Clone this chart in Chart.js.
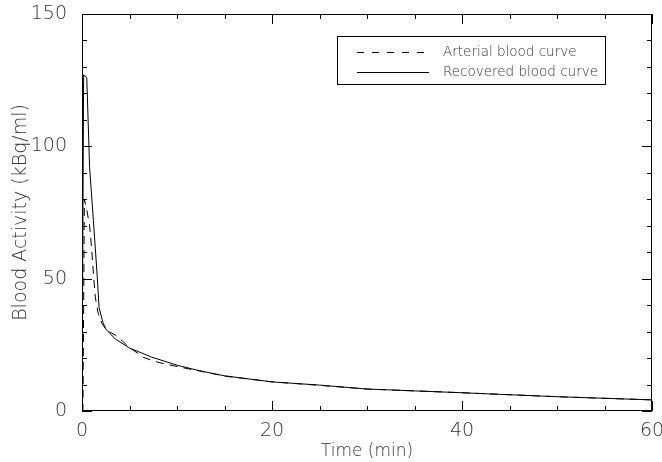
<!DOCTYPE html>
<html>
<head>
<meta charset="utf-8">
<script src="https://cdn.jsdelivr.net/npm/chart.js@4/dist/chart.umd.min.js"></script>
<style>
  html, body { margin: 0; padding: 0; background: #fff; }
  #wrap { width: 662px; height: 462px; }
</style>
</head>
<body>
<div id="wrap"><canvas id="bloodChart" width="662" height="462"></canvas></div>
<script>
// values (time in min, activity in kBq/ml)
const arterialTime   = [0, 0.1, 0.25, 0.5, 0.8, 1.0, 1.2, 1.4, 1.7, 2.1, 2.6, 3.6, 5, 6.5, 8, 10, 12.4, 15, 20, 25, 30, 35, 40, 50, 60];
const arterialValues = [0, 0, 80, 76, 70, 62, 52, 43, 37, 33, 30.5, 28.5, 24, 20.2, 18.4, 16.8, 15.1, 13.2, 11, 9.7, 8.3, 7.6, 6.9, 5.4, 4.2];

const recoveredTime   = [0, 0.1, 0.17, 0.5, 0.8, 1.2, 1.6, 1.8, 2.2, 2.5, 3.5, 5, 7.3, 10, 12.4, 15, 20, 25, 30, 35, 40, 50, 60];
const recoveredValues = [0, 0, 127, 126, 92, 72, 51, 39, 33.5, 31, 27.2, 23.8, 20.4, 17.3, 15.2, 13.3, 11, 9.8, 8.3, 7.6, 6.9, 5.4, 4.2];

const xTickLabels = [0, 20, 40, 60];
const yTickLabels = [0, 50, 100, 150];
const legendLabels = ['Arterial blood curve', 'Recovered blood curve'];

const FONT = '"DejaVu Sans", sans-serif';
const INK = '#333';

function toPoints(xs, ys) {
    return xs.map((t, i) => ({ x: t, y: ys[i] }));
}

// frame with inward ticks on all four sides
const frameTicks = {
    id: 'frameTicks',
    afterDraw(chart) {
        const { ctx, chartArea: { left, right, top, bottom }, scales: { x, y } } = chart;
        ctx.save();
        ctx.strokeStyle = '#000';
        ctx.lineWidth = 1;
        ctx.strokeRect(left + 0.5, top + 0.5, right - left - 1, bottom - top - 1);
        ctx.beginPath();
        for (let v = 0; v <= 60; v += 5) {
            const px = Math.round(x.getPixelForValue(v)) + 0.5;
            const len = (v % 20 === 0) ? 10 : 5;
            ctx.moveTo(px, bottom); ctx.lineTo(px, bottom - len);
            ctx.moveTo(px, top); ctx.lineTo(px, top + len);
        }
        for (let v = 0; v <= 150; v += 10) {
            const py = Math.round(y.getPixelForValue(v)) + 0.5;
            const len = (v % 50 === 0) ? 10 : 5;
            ctx.moveTo(left, py); ctx.lineTo(left + len, py);
            ctx.moveTo(right, py); ctx.lineTo(right - len, py);
        }
        ctx.stroke();
        ctx.restore();
    }
};

// boxed legend in the upper right
const boxLegend = {
    id: 'boxLegend',
    afterDraw(chart) {
        const ctx = chart.ctx;
        const bx = 337, by = 36, bw = 268, bh = 48;
        ctx.save();
        ctx.fillStyle = '#fff';
        ctx.fillRect(bx, by, bw, bh);
        ctx.strokeStyle = '#000';
        ctx.lineWidth = 1;
        ctx.strokeRect(bx + 0.5, by + 0.5, bw, bh);
        ctx.font = '200 13.5px ' + FONT;
        ctx.fillStyle = INK;
        ctx.textBaseline = 'middle';
        const rows = [by + 16, by + 36];
        chart.data.datasets.forEach((ds, i) => {
            ctx.beginPath();
            ctx.setLineDash(ds.borderDash ? [7, 8] : []);
            ctx.moveTo(357, rows[i] + 0.5);
            ctx.lineTo(429, rows[i] + 0.5);
            ctx.stroke();
            ctx.setLineDash([]);
            ctx.fillText(legendLabels[i], 443, rows[i]);
        });
        ctx.restore();
    }
};

new Chart(document.getElementById('bloodChart'), {
    type: 'line',
    data: {
        datasets: [
            {
                label: legendLabels[0],
                data: toPoints(arterialTime, arterialValues),
                borderColor: '#000',
                borderWidth: 1,
                borderDash: [8, 6],
                pointRadius: 0,
                tension: 0,
                fill: false
            },
            {
                label: legendLabels[1],
                data: toPoints(recoveredTime, recoveredValues),
                borderColor: '#000',
                borderWidth: 1,
                pointRadius: 0,
                tension: 0,
                fill: false
            }
        ]
    },
    options: {
        responsive: false,
        animation: false,
        layout: { padding: { top: 14, right: 10, left: 0, bottom: 0 } },
        plugins: { legend: { display: false }, tooltip: { enabled: false } },
        scales: {
            x: {
                type: 'linear',
                min: 0, max: 60,
                grid: { display: false },
                border: { display: false },
                afterBuildTicks: s => { s.ticks = xTickLabels.map(v => ({ value: v })); },
                afterFit: s => { s.height = 51; s.paddingLeft = 0; s.paddingRight = 0; },
                ticks: { color: INK, font: { family: FONT, size: 19, weight: 200 }, padding: 1, maxRotation: 0 },
                title: { display: true, text: 'Time (min)', color: INK, font: { family: FONT, size: 17, weight: 200 }, padding: { top: 0, bottom: 0 } }
            },
            y: {
                type: 'linear',
                min: 0, max: 150,
                grid: { display: false },
                border: { display: false },
                afterBuildTicks: s => { s.ticks = yTickLabels.map(v => ({ value: v })); },
                afterFit: s => { s.width = 82; s.paddingTop = 0; s.paddingBottom = 0; },
                ticks: { color: INK, font: { family: FONT, size: 19, weight: 200 }, padding: 7 },
                title: { display: true, text: 'Blood Activity (kBq/ml)', color: INK, font: { family: FONT, size: 19, weight: 200 }, padding: { top: 10, bottom: 0 } }
            }
        }
    },
    plugins: [frameTicks, boxLegend]
});
</script>
</body>
</html>
